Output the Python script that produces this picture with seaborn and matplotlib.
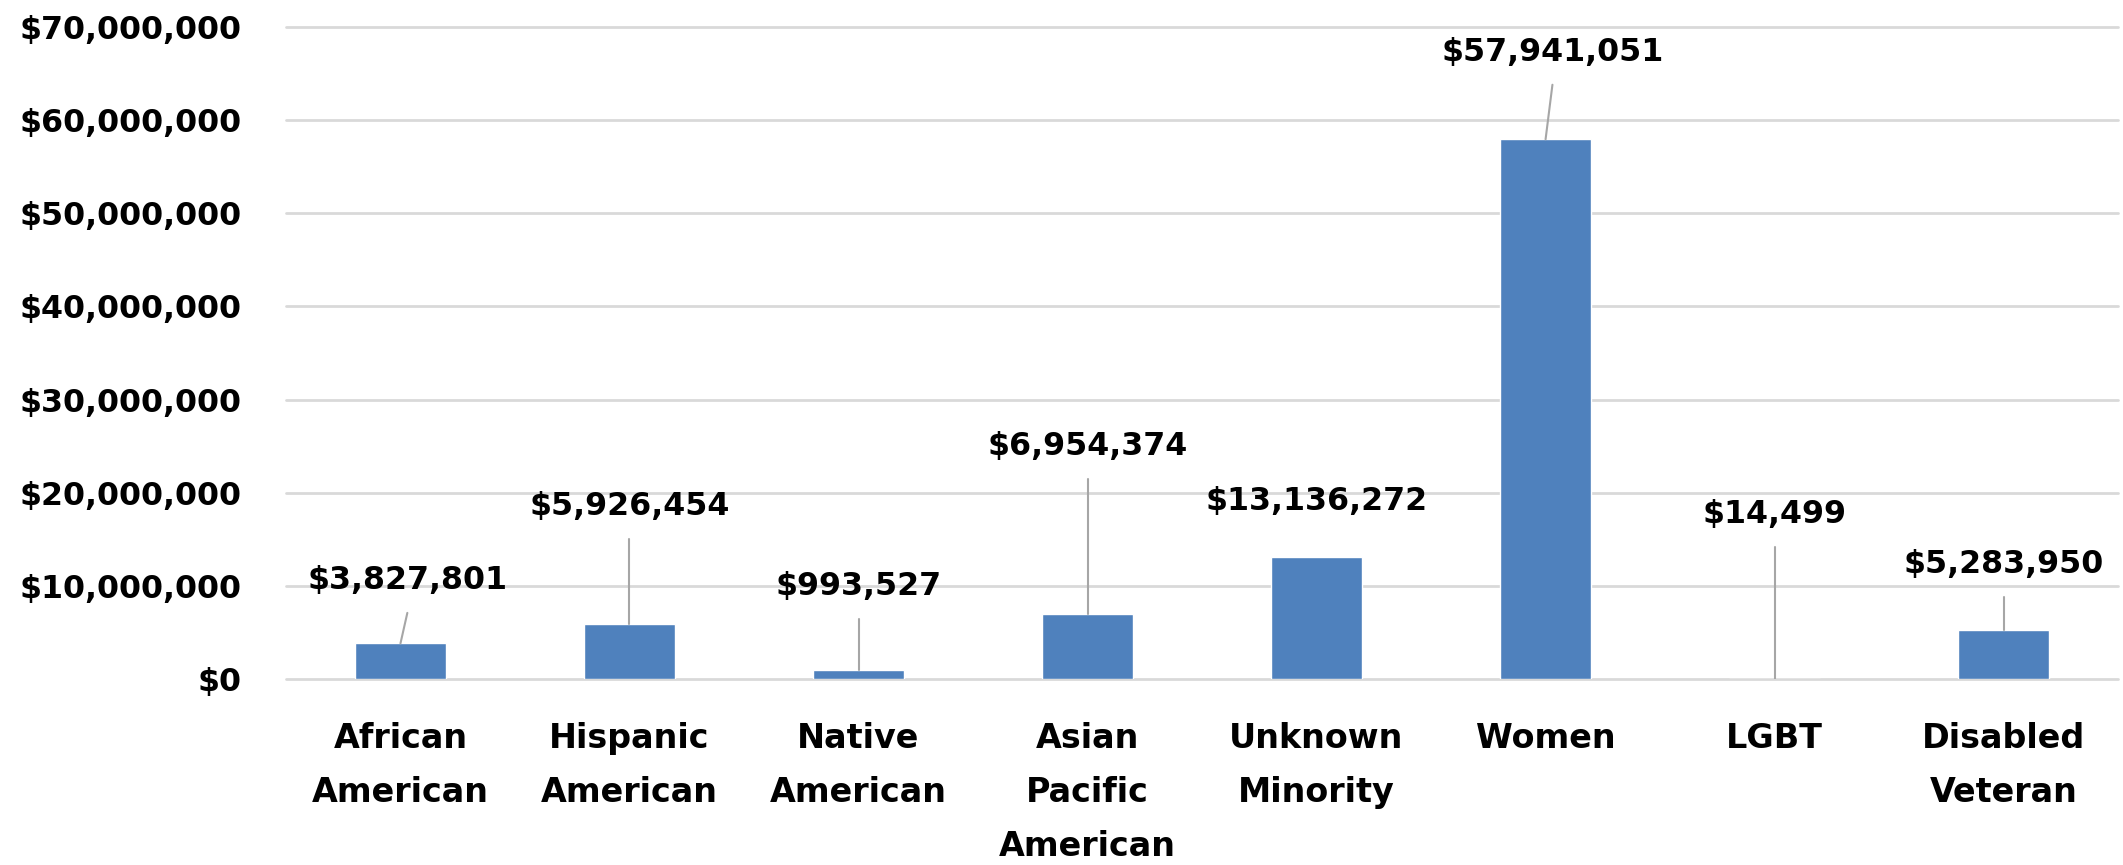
import matplotlib
matplotlib.use("Agg")
import matplotlib.pyplot as plt
from matplotlib.ticker import FuncFormatter, MultipleLocator
import pandas as pd
import seaborn as sns

# chart data
categories = ["African\nAmerican", "Hispanic\nAmerican", "Native\nAmerican",
              "Asian\nPacific\nAmerican", "Unknown\nMinority", "Women",
              "LGBT", "Disabled\nVeteran"]
amounts = [3827801, 5926454, 993527, 6954374, 13136272, 57941051, 14499, 5283950]

# where the data labels sit (label centre, in dollars) and whether a leader line is drawn
label_y = [10.6e6, 18.55e6, 9.95e6, 25.0e6, 19.1e6, 67.3e6, 17.7e6, 12.3e6]
label_dx = [0.03, 0, 0, 0, 0, 0.03, 0, 0]
show_leader = [True, True, True, True, False, True, True, True]

BAR_COLOR = "#4F81BD"
GRID_COLOR = "#D9D9D9"
LEADER_COLOR = "#A6A6A6"

sns.set_theme(style="white")
plt.rcParams["font.family"] = ["DejaVu Sans"]

df = pd.DataFrame({"category": categories, "amount": amounts})

fig = plt.figure(figsize=(21.23, 8.65), dpi=100)
ax = fig.add_axes([0.1347, 0.215, 0.863, 0.7538])

sns.barplot(data=df, x="category", y="amount", color=BAR_COLOR, width=0.4,
            saturation=1, ax=ax, zorder=3)

ax.set_ylim(0, 70e6)
ax.set_xlim(-0.5, len(categories) - 0.5)
ax.yaxis.set_major_locator(MultipleLocator(10e6))
ax.yaxis.set_major_formatter(FuncFormatter(lambda v, _: f"${v:,.0f}"))
ax.grid(axis="y", color=GRID_COLOR, linewidth=2, zorder=0)
ax.set_axisbelow(True)
# keep the top and bottom gridlines whole instead of half-clipped
for gl in ax.get_ygridlines():
    gl.set_clip_on(False)
for side in ["top", "right", "left", "bottom"]:
    ax.spines[side].set_visible(False)
ax.set_xlabel("")
ax.set_ylabel("")
ax.tick_params(axis="both", length=0, labelcolor="black")
ax.tick_params(axis="y", pad=32, labelsize=22.75)
ax.tick_params(axis="x", pad=31, labelsize=24)
for lbl in ax.get_yticklabels() + ax.get_xticklabels():
    lbl.set_fontweight("bold")
for lbl in ax.get_xticklabels():
    lbl.set_linespacing(1.8)

# data labels with leader lines, like the Excel original
offset = 3.5e6
for i, (val, ly, dx, lead) in enumerate(zip(amounts, label_y, label_dx, show_leader)):
    ax.text(i + dx, ly, f"${val:,.0f}", ha="center", va="center",
            fontsize=22.75, fontweight="bold", color="black", zorder=5)
    if lead:
        ax.plot([i + dx, i], [ly - offset, val], color=LEADER_COLOR,
                linewidth=1.5, zorder=4)

fig.savefig("out.png", dpi=100)
